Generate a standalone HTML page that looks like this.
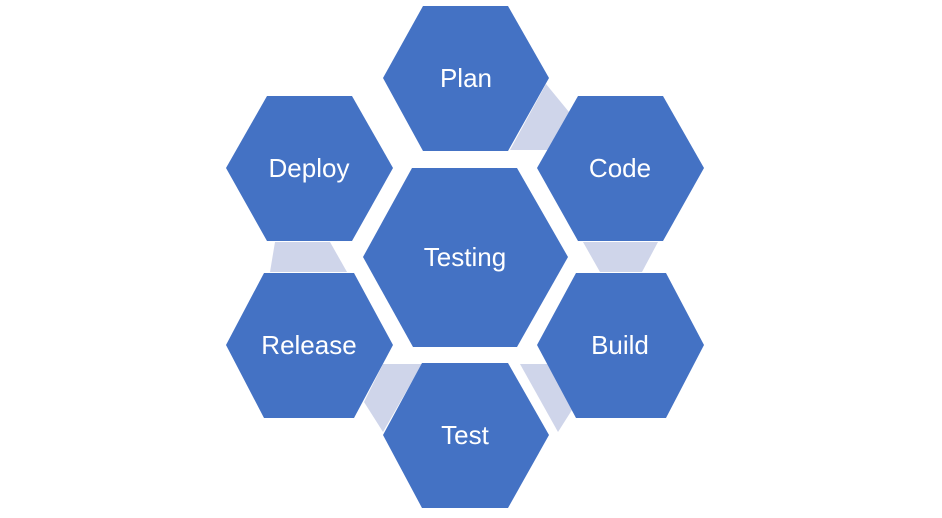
<!DOCTYPE html>
<html><head><style>
html,body{margin:0;padding:0;background:#fff;}
svg{display:block;}
text{font-family:"Liberation Sans",sans-serif;font-size:26px;fill:#fff;text-anchor:middle;}
</style></head><body>
<svg width="942" height="518" viewBox="0 0 942 518">
<g fill="#cfd5ea">
<polygon points="546,84 569,112 553,150 510,150"/>
<polygon points="583,242 658,242 642,272 600,272"/>
<polygon points="275,242 330,242 347,272 270,272"/>
<polygon points="383,364 422,364 383,432 364,402"/>
<polygon points="558,364 520,364 558,432 577,402"/>
</g>
<g fill="#4472c4">
<polygon points="383,78 423,6 508,6 549,78 508,151 423,151"/>
<polygon points="537,168 578,96 663,96 704,168 663,241 578,241"/>
<polygon points="226,168 267,96 352,96 393,168 352,241 267,241"/>
<polygon points="363,257 412,168 517,168 568,257 517,347 413,347"/>
<polygon points="226,345 264,273 354,273 393,345 354,418 264,418"/>
<polygon points="537,345 576,273 666,273 704,345 666,418 576,418"/>
<polygon points="383,435 422,363 508,363 549,435 508,508 422,508"/>
</g>
<text x="466" y="87">Plan</text>
<text x="620" y="177">Code</text>
<text x="309" y="177">Deploy</text>
<text x="465" y="266">Testing</text>
<text x="309" y="354">Release</text>
<text x="620" y="354">Build</text>
<text x="465" y="444">Test</text>
</svg>
</body></html>
